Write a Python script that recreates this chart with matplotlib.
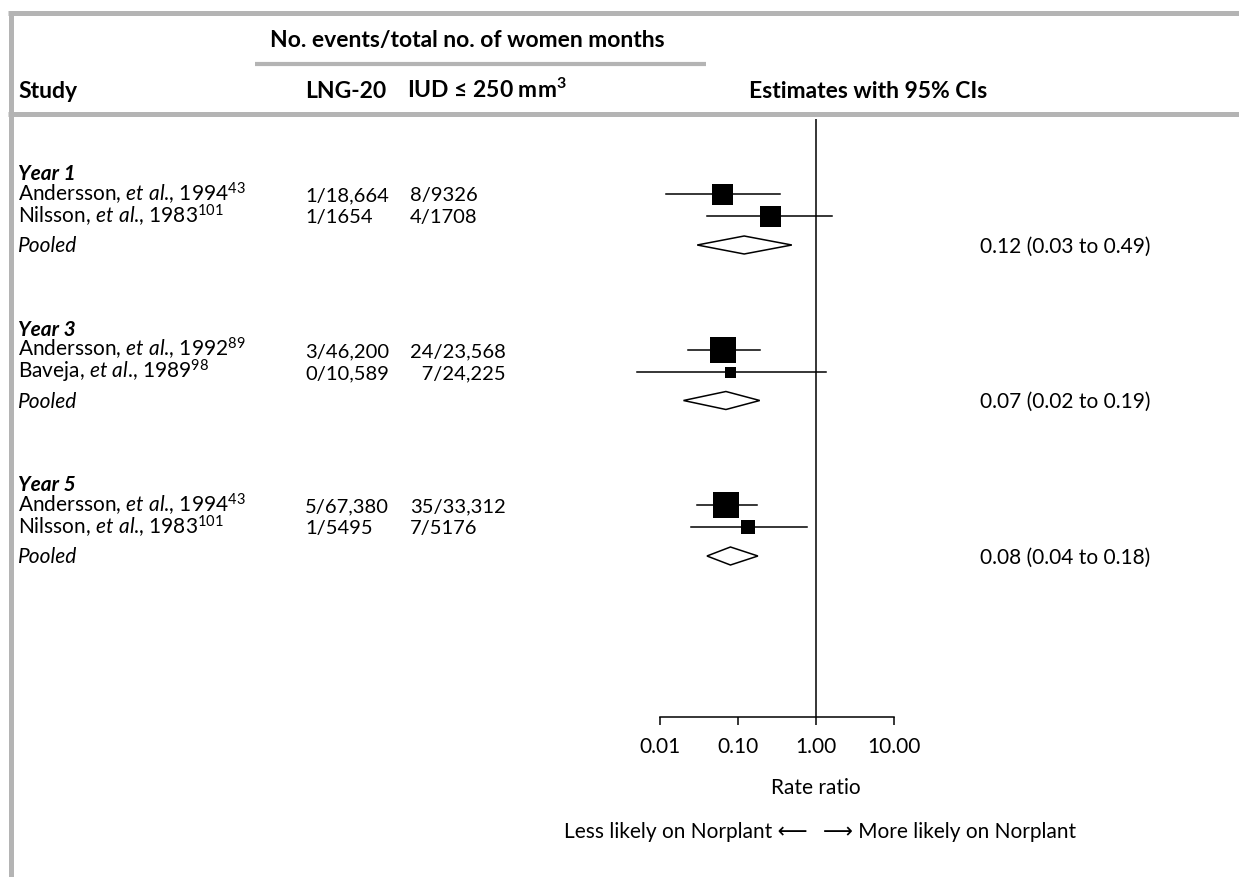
import matplotlib.pyplot as plt
from matplotlib.patches import Polygon

# studies, grouped by follow-up year
years = ["Year 1", "Year 3", "Year 5"]
authors = [["Andersson", "Nilsson"], ["Andersson", "Baveja"], ["Andersson", "Nilsson"]]
pub_years = [["1994", "1983"], ["1992", "1989"], ["1994", "1983"]]
refs = [["43", "101"], ["89", "98"], ["43", "101"]]
lng_counts = [["1/18,664", "1/1654"], ["3/46,200", "0/10,589"], ["5/67,380", "1/5495"]]
iud_counts = [["8/9326", "4/1708"], ["24/23,568", "\u20077/24,225"], ["35/33,312", "7/5176"]]

# rate ratios with 95% CIs for each study
rr = [[0.0625, 0.26], [0.064, 0.08], [0.071, 0.135]]
rr_lo = [[0.012, 0.040], [0.023, 0.005], [0.030, 0.025]]
rr_hi = [[0.35, 1.60], [0.19, 1.36], [0.175, 0.77]]

# pooled estimates per year
pooled = [0.12, 0.07, 0.08]
pooled_lo = [0.03, 0.02, 0.04]
pooled_hi = [0.49, 0.19, 0.18]

ticks = [0.01, 0.1, 1, 10]
tick_labels = ["0.01", "0.10", "1.00", "10.00"]

# box sizes (px) for the study squares
box_px = [[21, 21], [27, 11], [27, 14]]

W, H = 1239, 878
GREY = "#b4b4b4"
FS = 15
FS_NUM = 14.5
FS_BOLD = 16.5
FAM = ["Lato", "DejaVu Sans"]

plt.rcParams["font.family"] = FAM
plt.rcParams["mathtext.fontset"] = "custom"
plt.rcParams["mathtext.rm"] = "Lato"
plt.rcParams["mathtext.it"] = "Lato:italic"
plt.rcParams["mathtext.bf"] = "Lato:bold"

fig = plt.figure(figsize=(W / 100, H / 100), dpi=100)

# page axes in pixel units for the table text and rules
page = fig.add_axes([0, 0, 1, 1])
page.set_xlim(0, W)
page.set_ylim(H, 0)
page.axis("off")

# forest axes: log scale, 78 px per decade, 1.0 at x=816
ppd = 78.0
x_one = 816
left_px, right_px = 600, 960
forest = fig.add_axes([left_px / W, 0, (right_px - left_px) / W, 1])
forest.set_xscale("log")
forest.set_xlim(10 ** ((left_px - x_one) / ppd), 10 ** ((right_px - x_one) / ppd))
forest.set_ylim(H, 0)
forest.patch.set_visible(False)

# frame rules
page.plot([8, W], [14, 14], color=GREY, lw=3.6, solid_capstyle="butt")
page.plot([10.5, 10.5], [12, H], color=GREY, lw=3.6, solid_capstyle="butt")
page.plot([8, W], [115, 115], color=GREY, lw=3.6, solid_capstyle="butt")
page.plot([255, 706], [65, 65], color=GREY, lw=3.0, solid_capstyle="butt")

# headers
page.text(270, 47, "No. events/total no. of women months", fontsize=FS_BOLD, fontweight="bold")
hy = 98
page.text(18, hy, "Study", fontsize=FS_BOLD, fontweight="bold")
page.text(305, hy, "LNG-20", fontsize=FS_BOLD, fontweight="bold")
page.text(407, hy, "IUD \u2264 250 mm$^\\mathbf{3}$", fontsize=FS_BOLD, fontweight="bold")
page.text(749, hy, "Estimates with 95% CIs", fontsize=FS_BOLD, fontweight="bold")

axis_y = 718
forest.vlines(1, 120, axis_y, color="black", lw=1.1)

base = 6.5  # baseline offset below row centre
for i, year in enumerate(years):
    y0 = 175 + 155.5 * i
    page.text(18, y0 + base - 1, year, fontsize=FS, fontweight="bold", style="italic")
    for j in range(2):
        y = y0 + 20 + 22 * j
        label = "%s, $\\mathit{et\\ al}$., $\\mathrm{%s}^{%s}$" % (
            authors[i][j], pub_years[i][j], refs[i][j])
        page.text(18, y + base, label, fontsize=FS)
        page.text(305, y + base, lng_counts[i][j], fontsize=FS_NUM)
        page.text(410, y + base, iud_counts[i][j], fontsize=FS_NUM)
        forest.plot([rr_lo[i][j], rr_hi[i][j]], [y, y], color="black", lw=1.1)
        forest.plot(rr[i][j], y, marker="s", color="black",
                    markersize=box_px[i][j] * 0.72, markeredgewidth=0)
    yp = y0 + 71
    page.text(18, yp + base, "Pooled", fontsize=FS, style="italic")
    dh = 9
    forest.add_patch(Polygon([(pooled_lo[i], yp), (pooled[i], yp - dh),
                              (pooled_hi[i], yp), (pooled[i], yp + dh)],
                             closed=True, facecolor="white", edgecolor="black", lw=1.1))
    page.text(980, yp + base,
              "%.2f (%.2f to %.2f)" % (pooled[i], pooled_lo[i], pooled_hi[i]),
              fontsize=FS)

# x axis
for side in ["top", "right", "left"]:
    forest.spines[side].set_visible(False)
forest.spines["bottom"].set_position(("data", axis_y))
forest.spines["bottom"].set_bounds(ticks[0], ticks[-1])
forest.spines["bottom"].set_linewidth(1.1)
forest.set_xticks(ticks)
forest.set_xticklabels(tick_labels)
forest.minorticks_off()
forest.set_yticks([])
forest.tick_params(axis="x", direction="out", length=6, width=1.1, pad=8, labelsize=FS)

forest.text(1, 788, "Rate ratio", fontsize=FS, ha="center", va="center")
forest.annotate("Less likely on Norplant \u27f5", xy=(1, 832), xytext=(-6, 0),
                textcoords="offset points", ha="right", va="center", fontsize=FS)
forest.annotate("\u27f6 More likely on Norplant", xy=(1, 832), xytext=(5, 0),
                textcoords="offset points", ha="left", va="center", fontsize=FS)

fig.savefig("out.png", dpi=100)
